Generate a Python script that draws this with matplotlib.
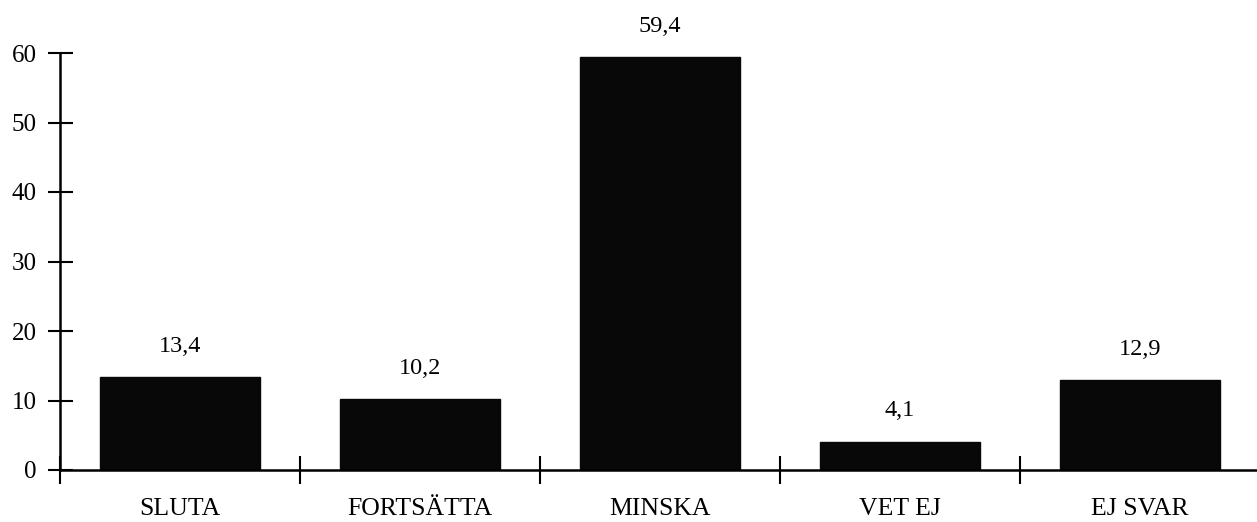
import matplotlib.pyplot as plt
import numpy as np

# data
categories = ['SLUTA', 'FORTSÄTTA', 'MINSKA', 'VET EJ', 'EJ SVAR']
values = [13.4, 10.2, 59.4, 4.1, 12.9]
yticks = [0, 10, 20, 30, 40, 50, 60]

plt.rcParams['font.family'] = ['Liberation Serif', 'DejaVu Serif']

fig = plt.figure(figsize=(12.57, 5.22), dpi=100)
ax = fig.add_axes([60 / 1257, 1 - 470 / 522, 1200 / 1257, (470 - 53) / 522])

x = np.arange(len(categories))
ax.bar(x, values, width=0.67, color='#080808', edgecolor='#080808', zorder=2)

for xi, v in zip(x, values):
    ax.text(xi, v + 2.9, f'{v:.1f}'.replace('.', ','), ha='center', va='bottom',
            fontsize=17.5, clip_on=False)

ax.set_xlim(-0.5, len(categories) - 0.5)
ax.set_ylim(0, 60)
ax.set_yticks(yticks)
ax.set_yticklabels([str(t) for t in yticks], fontsize=18)

# category ticks sit between the bars, labels are centered under them
ax.set_xticks(np.arange(len(categories) + 1) - 0.5)
ax.set_xticklabels([])
ax.set_xticks(x, minor=True)
ax.set_xticklabels(categories, minor=True, fontsize=18.5)
ax.tick_params(axis='x', which='minor', length=0, pad=20)
ax.tick_params(axis='x', which='major', direction='inout', length=20, width=1.5)
ax.tick_params(axis='y', direction='inout', length=18, width=1.5, pad=8)

for s in ['top', 'right']:
    ax.spines[s].set_visible(False)
ax.spines['left'].set_linewidth(1.8)
ax.spines['bottom'].set_linewidth(1.8)

fig.savefig('out.png', dpi=100)
